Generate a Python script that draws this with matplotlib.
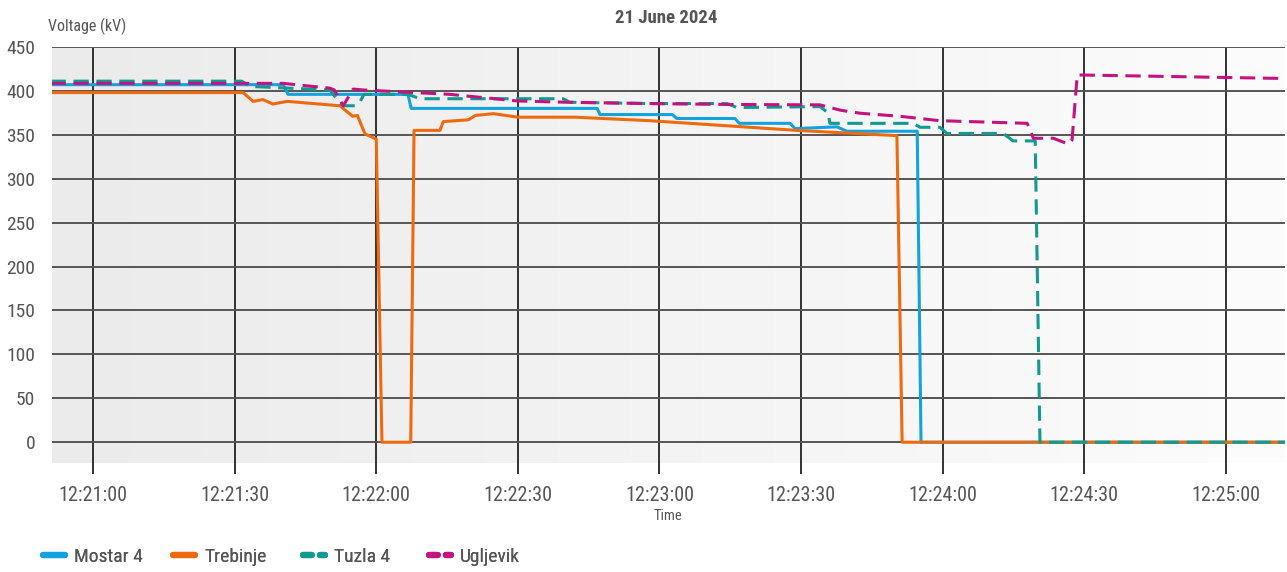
import matplotlib
matplotlib.use("Agg")
import matplotlib.pyplot as plt
import matplotlib.dates as mdates
from matplotlib.lines import Line2D
from matplotlib import font_manager
import numpy as np

# Pick a narrow sans face if one is available
available = {f.name for f in font_manager.fontManager.ttflist}
for cand in ["Liberation Sans Narrow", "Roboto Condensed", "Open Sans Condensed", "DejaVu Sans"]:
    if cand in available:
        FONT = cand
        break
plt.rcParams["font.family"] = [FONT, "DejaVu Sans"]

# Seconds after 12:21:00 and voltage in kV for each substation
mostar_t = [-9, 40.3, 41.3, 66.7, 67.4, 106.8, 107.4, 122.7, 123.7, 136, 136.9,
            147.7, 148.7, 157.6, 159.7, 174.6, 175.4, 253]
mostar_v = [407, 407, 396, 396, 380, 380, 373, 373, 368.5, 368.5, 363,
            363, 357, 359, 354, 354, 0, 0]

trebinje_t = [-9, 31.8, 33.9, 36, 38.1, 41.1, 52.3, 55, 56, 57.6, 60, 61.2, 67.3,
              68, 73.5, 74.2, 79.5, 81, 84.8, 90, 102, 118, 149, 170.3, 171.4, 253]
trebinje_v = [398, 398, 388, 390, 385, 388, 383, 371, 372, 351, 345, 0, 0,
              355, 355, 365, 367, 372, 374, 370, 370, 366, 355, 349, 0, 0]

tuzla_t = [-9, 31.5, 33.3, 50.2, 51.3, 52.5, 53, 55.5, 56.6, 57.4, 66.7, 69.3,
           99.6, 101, 118, 134.3, 136.4, 154, 155.7, 156.1, 173.7, 175.2, 179.4,
           180.9, 192.8, 194.9, 199.6, 200.6, 253]
tuzla_v = [411, 411, 405, 401, 393, 385, 383, 383, 388, 396, 396, 391,
           391, 387, 385.5, 385.5, 381, 382, 375, 363, 363, 358.5, 358.5,
           351.5, 351.5, 343, 343, 0, 0]

ugljevik_t = [-9, 40.3, 50.2, 51.1, 53, 55.1, 57.2, 75.6, 89.8, 100.4, 118, 134.3,
              154, 158.3, 162.5, 171, 179.4, 197.9, 199.2, 203.4, 206.6, 207.4,
              208.5, 209.7, 253]
ugljevik_v = [408.5, 408.5, 403, 401, 383, 402, 401, 396, 388.5, 387, 385.5, 384.5,
              384, 378, 374.5, 371, 366, 363, 346, 346, 339.5, 344,
              418, 418, 414]

series_names = ["Mostar 4", "Trebinje", "Tuzla 4", "Ugljevik"]
series_colors = ["#12a2e0", "#ef6a0e", "#109a90", "#c4127f"]
y_ticks = [0, 50, 100, 150, 200, 250, 300, 350, 400, 450]

START = np.datetime64("2024-06-21T12:21:00")


def to_time(secs):
    return START + (np.asarray(secs, dtype=float) * 1000).round().astype("timedelta64[ms]")


W, H = 1287, 572
fig = plt.figure(figsize=(W / 100, H / 100), dpi=100)
fig.patch.set_facecolor("white")
ax = fig.add_axes([0.0404, 0.190, 0.958, 0.728])

# soft horizontal gradient behind the plot
grad = np.linspace(0, 1, 256).reshape(1, -1)
cmap = matplotlib.colors.LinearSegmentedColormap.from_list("bg", ["#ebebeb", "#fcfcfc"])
ax.imshow(grad, extent=[0, 1, 0, 1], transform=ax.transAxes, aspect="auto",
          cmap=cmap, zorder=-10)

data = [(mostar_t, mostar_v), (trebinje_t, trebinje_v), (tuzla_t, tuzla_v), (ugljevik_t, ugljevik_v)]
styles = ["-", "-", "--", "--"]
for (t, v), col, st in zip(data, series_colors, styles):
    line, = ax.plot(to_time(t), v, color=col, lw=2.2, zorder=3)
    if st == "--":
        line.set_dashes((5, 2.5))

ax.set_xlim(to_time(-8.7), to_time(252.5))
ax.set_ylim(-24, 450)
ax.set_yticks(y_ticks)
ax.xaxis.set_major_locator(mdates.SecondLocator(bysecond=[0, 30]))
ax.xaxis.set_major_formatter(mdates.DateFormatter("%H:%M:%S"))

ax.set_axisbelow(True)
ax.grid(axis="y", color="#555555", lw=1.4)
ax.grid(axis="x", color="#111111", lw=1.2)
for s in ax.spines.values():
    s.set_visible(False)
ax.tick_params(axis="x", length=8, width=1.2, color="#111111", pad=8,
               labelsize=14.5, labelcolor="#555555")
ax.tick_params(axis="y", length=0, pad=12, labelsize=14, labelcolor="#555555")

fig.text(0.518, 1 - 18 / H, "21 June 2024", ha="center", va="center",
         fontsize=13.5, fontweight="bold", color="#555555")
fig.text(48 / W, 1 - 26 / H, "Voltage (kV)", ha="left", va="center",
         fontsize=11.5, color="#555555")
fig.text(668 / W, 1 - 516 / H, "Time", ha="center", va="center",
         fontsize=10.5, color="#555555")

# one legend entry per series, laid out in a row under the axis title
legend_x = [43, 173, 303, 429]
for name, col, st, x0 in zip(series_names, series_colors, styles, legend_x):
    h = Line2D([0], [0], color=col, lw=4.5, solid_capstyle="round", dash_capstyle="round")
    if st == "--":
        h.set_dashes((1.4, 1.3))
    fig.add_artist(fig.legend([h], [name], loc="center left",
                              bbox_to_anchor=(x0 / W, 1 - 557 / H),
                              frameon=False, fontsize=14, handlelength=1.15,
                              handletextpad=0.45, borderpad=0, borderaxespad=0,
                              labelcolor="#555555"))

fig.savefig("out.png", dpi=100, facecolor="white")
